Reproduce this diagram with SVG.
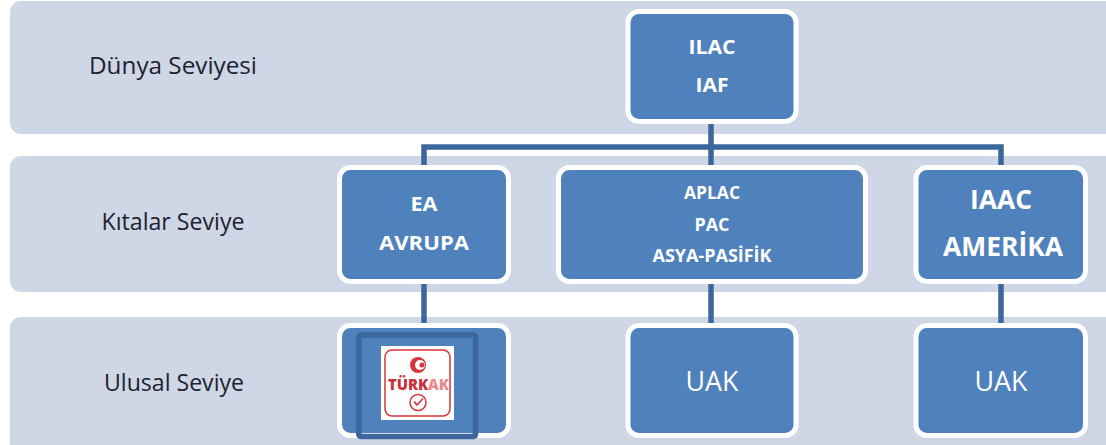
<svg xmlns="http://www.w3.org/2000/svg" width="1106" height="445" viewBox="0 0 1106 445">
<style>
.band{fill:#cfd6e6}
.box{fill:#4f81bd;stroke:#fff;stroke-width:5}
.conn{fill:none;stroke:#3d679b;stroke-width:5.5}
text{font-family:"Open Sans","Noto Sans","Liberation Sans",sans-serif;text-anchor:middle}
.lab{fill:#1c2230;font-size:23px}
.b{fill:#fff;font-weight:700;font-size:20px}
.s{font-size:17px}
.l{font-size:27px}
.u{fill:#fff;font-size:28px}
</style>
<rect width="1106" height="445" fill="#fff"/>
<g id="bands">
<rect class="band" x="10" y="1" width="1110" height="133" rx="11"/>
<rect class="band" x="10" y="156" width="1110" height="136" rx="11"/>
<rect class="band" x="10" y="317" width="1110" height="140" rx="11"/>
</g>
<g id="labels">
<text class="lab" x="173" y="74" textLength="168" lengthAdjust="spacingAndGlyphs">Dünya Seviyesi</text>
<text class="lab" x="173" y="230" textLength="143" lengthAdjust="spacingAndGlyphs">Kıtalar  Seviye</text>
<text class="lab" x="174" y="391" textLength="140" lengthAdjust="spacingAndGlyphs">Ulusal Seviye</text>
</g>
<g id="connectors">
<path class="conn" d="M711 122V166M424 166V147H1001V166M424 281V325M711 281V325M1001 281V325"/>
</g>
<g id="n-ilac">
<rect class="box" x="628" y="11.500" width="168" height="110" rx="11"/>
<text class="b" x="712" y="54" textLength="47" lengthAdjust="spacingAndGlyphs">ILAC</text>
<text class="b" x="712" y="92" textLength="33" lengthAdjust="spacingAndGlyphs">IAF</text>
</g>
<g id="n-ea">
<rect class="box" x="339.500" y="167.500" width="169" height="114" rx="11"/>
<text class="b" x="424" y="211" textLength="27" lengthAdjust="spacingAndGlyphs">EA</text>
<text class="b" x="424" y="250" textLength="90" lengthAdjust="spacingAndGlyphs">AVRUPA</text>
</g>
<g id="n-aplac">
<rect class="box" x="558.500" y="167.500" width="307" height="114" rx="11"/>
<text class="b s" x="712" y="199" textLength="56" lengthAdjust="spacingAndGlyphs">APLAC</text>
<text class="b s" x="712" y="231" textLength="35" lengthAdjust="spacingAndGlyphs">PAC</text>
<text class="b s" x="712" y="262" textLength="119" lengthAdjust="spacingAndGlyphs">ASYA-PASİFİK</text>
</g>
<g id="n-iaac">
<rect class="box" x="916" y="167.500" width="169.500" height="114" rx="11"/>
<text class="b l" x="1001" y="209" textLength="62" lengthAdjust="spacingAndGlyphs">IAAC</text>
<text class="b l" x="1003" y="256" textLength="120" lengthAdjust="spacingAndGlyphs">AMERİKA</text>
</g>
<g id="n-turkak">
<rect class="box" x="339.500" y="325.500" width="169" height="110" rx="11"/>
<rect x="358.800" y="335" width="116.700" height="101.500" rx="2" fill="none" stroke="#3d679b" stroke-width="5.500"/>
<rect x="381" y="346" width="73" height="74" fill="#fff"/>
<rect x="385" y="350" width="65" height="66" rx="7" fill="none" stroke="#d8343c" stroke-width="1.500"/>
<circle cx="418" cy="365" r="8" fill="#d8343c"/>
<circle cx="420" cy="365" r="5" fill="#fff"/>
<circle cx="422" cy="365" r="2.500" fill="#d8343c"/>
<text x="418.500" y="390" style="font-size:15px;font-weight:800;fill:#c8303a" textLength="61" lengthAdjust="spacingAndGlyphs">TÜRK<tspan fill="#ea8a8e">AK</tspan></text>
<circle cx="418" cy="402.500" r="8" fill="none" stroke="#d8343c" stroke-width="1.500"/>
<path d="M414 401.500l3 3.500 6-6.500" fill="none" stroke="#d8343c" stroke-width="1.800"/>
</g>
<g id="n-uak1">
<rect class="box" x="628" y="325.500" width="168" height="110" rx="11"/>
<text class="u" x="712" y="391" textLength="53" lengthAdjust="spacingAndGlyphs">UAK</text>
</g>
<g id="n-uak2">
<rect class="box" x="916" y="325.500" width="169.500" height="110" rx="11"/>
<text class="u" x="1001" y="391" textLength="53" lengthAdjust="spacingAndGlyphs">UAK</text>
</g>
</svg>
